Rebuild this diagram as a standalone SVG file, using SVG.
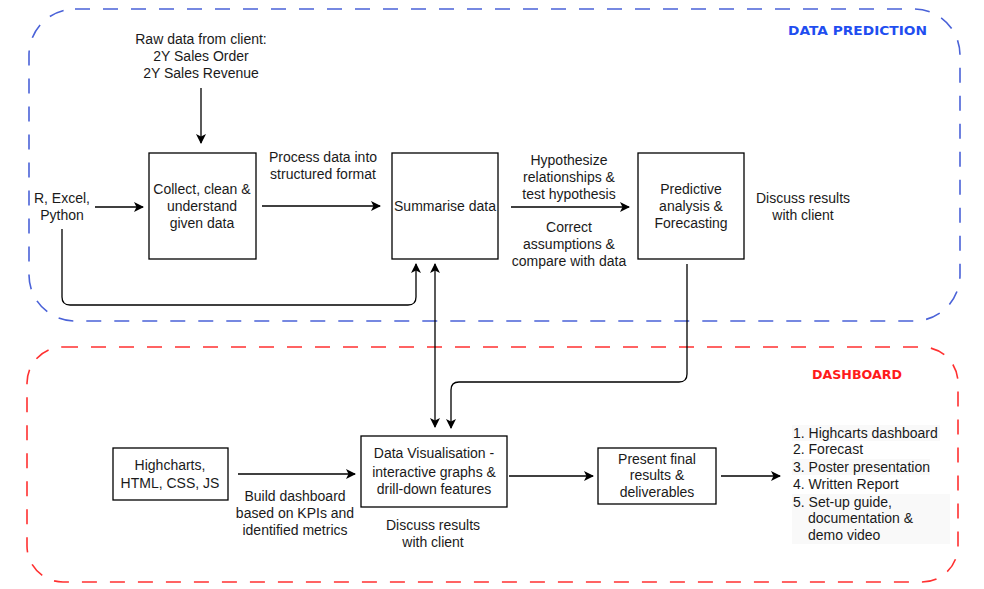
<svg xmlns="http://www.w3.org/2000/svg" width="984" height="589" viewBox="0 0 984 589">
  <defs>
    <marker id="arrow" viewBox="0 0 10 10" refX="9" refY="5" markerWidth="10" markerHeight="10" markerUnits="userSpaceOnUse" orient="auto-start-reverse">
      <path d="M0,0 L10,5 L0,10 L2.5,5 z" fill="#000"/>
    </marker>
    <style>
      .box { fill: #fff; stroke: #000; stroke-width: 1.3; }
      .txt { font-family: "Liberation Sans", Arial, sans-serif; font-size: 14px; fill: #1a1a1a; text-anchor: middle; }
      .lst { font-family: "Liberation Sans", Arial, sans-serif; font-size: 14px; fill: #1a1a1a; }
      .edge { fill: none; stroke: #000; stroke-width: 1.3; }
      .arr { marker-end: url(#arrow); }
      .zone { fill: none; stroke-width: 1.6; stroke-dasharray: 15 13; }
      .title { font-family: "DejaVu Sans", "Liberation Sans", sans-serif; font-weight: bold; font-size: 13px; }
      .hl { fill: #f9f9f9; }
    </style>
  </defs>

  <rect width="984" height="589" fill="#fff"/>

  <!-- Swimlane frames -->
  <g id="zone-data-prediction">
    <rect class="zone" x="29" y="9" width="931" height="312" rx="46" ry="46" stroke="#4a62d8"/>
    <text class="title" x="788" y="35" fill="#1f4ef0" textLength="139" lengthAdjust="spacingAndGlyphs">DATA PREDICTION</text>
  </g>
  <g id="zone-dashboard">
    <rect class="zone" x="27" y="347" width="931" height="235" rx="36" ry="36" stroke="#ff3030"/>
    <text class="title" x="812" y="379" fill="#ff1a1a" textLength="90" lengthAdjust="spacingAndGlyphs">DASHBOARD</text>
  </g>

  <!-- Connectors -->
  <g id="connectors">
    <path class="edge arr" d="M201,88 V143"/>
    <path class="edge arr" d="M95,207 H143"/>
    <path class="edge arr" d="M262,206 H380"/>
    <path class="edge arr" d="M511,207 H629"/>
    <path class="edge arr" d="M62,229 V297 Q62,305 70,305 H408 Q416,305 416,297 V264"/>
    <path class="edge" d="M435,264 V427" marker-start="url(#arrow)" marker-end="url(#arrow)"/>
    <path class="edge arr" d="M687,264 V374 Q687,382 679,382 H459 Q451,382 451,390 V428"/>
    <path class="edge arr" d="M238,474 H355"/>
    <path class="edge arr" d="M509,476 H593"/>
    <path class="edge arr" d="M721,476 H780"/>
  </g>

  <!-- Free labels -->
  <g id="label-raw-data">
    <text class="txt" x="201" y="44">Raw data from client:</text>
    <text class="txt" x="201" y="61">2Y Sales Order</text>
    <text class="txt" x="201" y="78">2Y Sales Revenue</text>
  </g>
  <g id="label-tools">
    <text class="txt" x="62" y="203">R, Excel,</text>
    <text class="txt" x="62" y="220">Python</text>
  </g>
  <g id="label-process">
    <text class="txt" x="323" y="162">Process data into</text>
    <text class="txt" x="323" y="179">structured format</text>
  </g>
  <g id="label-hypothesize">
    <text class="txt" x="569" y="165">Hypothesize</text>
    <text class="txt" x="569" y="182">relationships &amp;</text>
    <text class="txt" x="569" y="199">test hypothesis</text>
    <text class="txt" x="569" y="232">Correct</text>
    <text class="txt" x="569" y="249">assumptions &amp;</text>
    <text class="txt" x="569" y="266">compare with data</text>
  </g>
  <g id="label-discuss-1">
    <text class="txt" x="803" y="203">Discuss results</text>
    <text class="txt" x="803" y="220">with client</text>
  </g>
  <g id="label-build">
    <text class="txt" x="295" y="501">Build dashboard</text>
    <text class="txt" x="295" y="518">based on KPIs and</text>
    <text class="txt" x="295" y="535">identified metrics</text>
  </g>
  <g id="label-discuss-2">
    <text class="txt" x="433" y="530">Discuss results</text>
    <text class="txt" x="433" y="547">with client</text>
  </g>

  <!-- Process nodes -->
  <g id="node-collect">
    <rect class="box" x="149" y="153" width="107" height="106"/>
    <text class="txt" x="202" y="194">Collect, clean &amp;</text>
    <text class="txt" x="202" y="211">understand</text>
    <text class="txt" x="202" y="228">given data</text>
  </g>
  <g id="node-summarise">
    <rect class="box" x="392" y="153" width="106" height="106"/>
    <text class="txt" x="445" y="211">Summarise data</text>
  </g>
  <g id="node-predictive">
    <rect class="box" x="638" y="153" width="106" height="106"/>
    <text class="txt" x="691" y="194">Predictive</text>
    <text class="txt" x="691" y="211">analysis &amp;</text>
    <text class="txt" x="691" y="228">Forecasting</text>
  </g>
  <g id="node-highcharts">
    <rect class="box" x="113" y="448" width="115" height="52"/>
    <text class="txt" x="170" y="470">Highcharts,</text>
    <text class="txt" x="170" y="488">HTML, CSS, JS</text>
  </g>
  <g id="node-visualisation">
    <rect class="box" x="361" y="436" width="146" height="71"/>
    <text class="txt" x="434" y="458">Data Visualisation -</text>
    <text class="txt" x="434" y="477">interactive graphs &amp;</text>
    <text class="txt" x="434" y="494">drill-down features</text>
  </g>
  <g id="node-present">
    <rect class="box" x="598" y="448" width="118" height="56"/>
    <text class="txt" x="657" y="464">Present final</text>
    <text class="txt" x="657" y="480">results &amp;</text>
    <text class="txt" x="657" y="497">deliverables</text>
  </g>

  <!-- Deliverables list -->
  <g id="node-deliverables">
    <rect class="hl" x="792" y="425" width="148" height="16"/>
    <rect class="hl" x="792" y="459" width="138" height="16"/>
    <rect class="hl" x="792" y="494" width="158" height="50"/>
    <text class="lst" x="793" y="438">1. Highcarts dashboard</text>
    <text class="lst" x="793" y="454">2. Forecast</text>
    <text class="lst" x="793" y="472">3. Poster presentation</text>
    <text class="lst" x="793" y="489">4. Written Report</text>
    <text class="lst" x="793" y="507">5. Set-up guide,</text>
    <text class="lst" x="808" y="523">documentation &amp;</text>
    <text class="lst" x="808" y="540">demo video</text>
  </g>
</svg>
